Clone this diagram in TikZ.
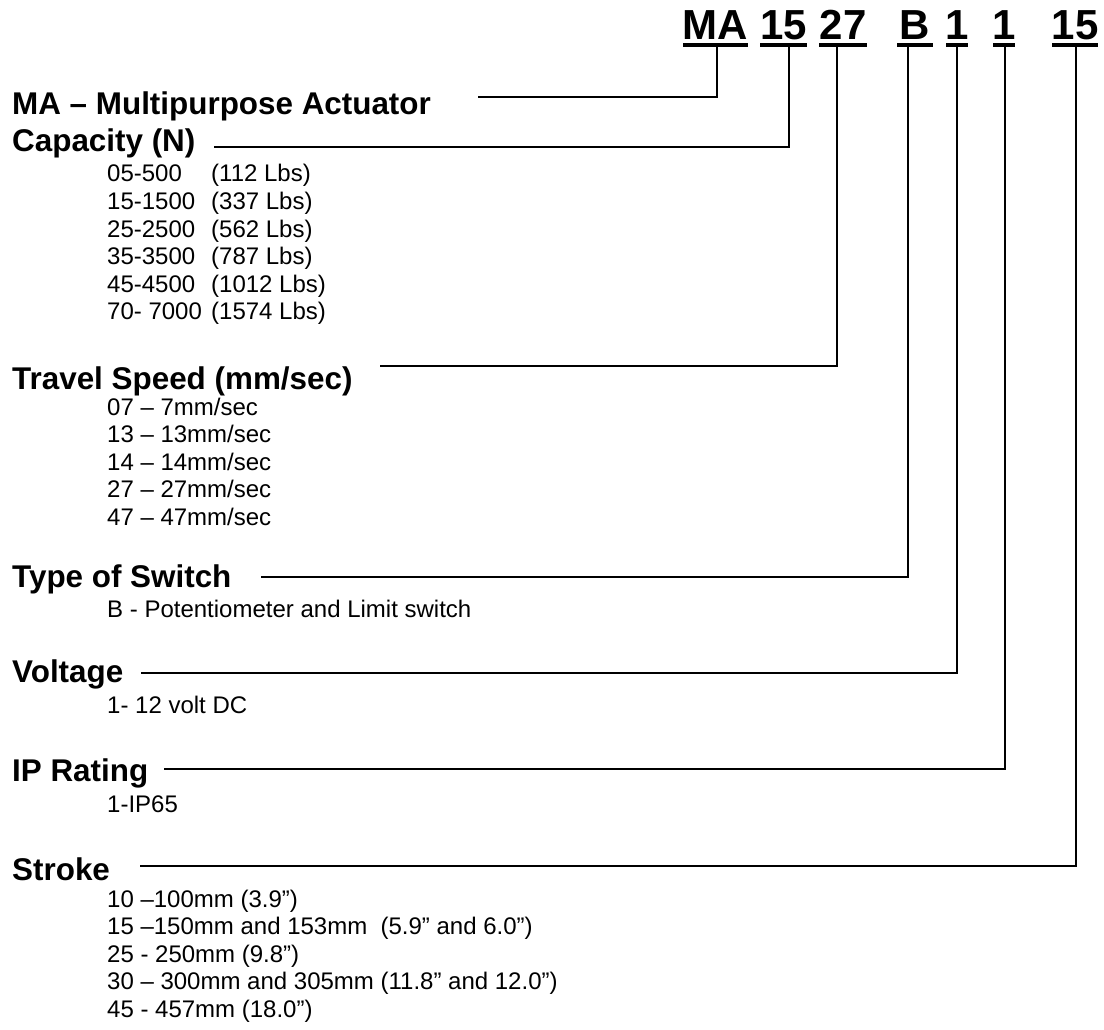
\documentclass[tikz,border=0pt]{standalone}
\usepackage{fontspec}
\setmainfont{Liberation Sans}
\begin{document}
\begin{tikzpicture}[x=1pt,y=-1pt,
  head/.style={anchor=base west, inner sep=0pt, font=\fontsize{31.4}{36}\selectfont\bfseries},
  body/.style={anchor=base west, inner sep=0pt, font=\fontsize{24}{27.5}\selectfont},
  code/.style={anchor=base, inner sep=0pt, font=\fontsize{42}{48}\selectfont\bfseries},
  conn/.style={line width=1.5pt},
  uline/.style={line width=4pt}]
\useasboundingbox (0,0) rectangle (1104,1030);
% code
\node[code] (cMA) at (715.5,40) {MA};
\node[code] (c15) at (783.5,40) {15};
\node[code] (c27) at (843,40) {27};
\node[code] (cB) at (915,40) {B};
\node[code] (c1a) at (957,40) {1};
\node[code] (c1b) at (1004,40) {1};
\node[code] (c15b) at (1075,40) {15};
\draw[uline] (683,45) -- (748,45);
\draw[uline] (760,45) -- (807,45);
\draw[uline] (819,45) -- (867,45);
\draw[uline] (897,45) -- (933,45);
\draw[uline] (946,45) -- (968,45);
\draw[uline] (993,45) -- (1015,45);
\draw[uline] (1052,45) -- (1098,45);
% headings
\node[head] (hMA) at (12,115) {MA – Multipurpose Actuator};
\node[head] (hCap) at (12,152) {Capacity (N)};
\node[head] (hTS) at (12,389) {Travel Speed (mm/sec)};
\node[head] (hTOS) at (12,587) {Type of Switch};
\node[head] (hV) at (12,682) {Voltage};
\node[head] (hIP) at (12,781) {IP Rating};
\node[head] (hS) at (12,880) {Stroke};
% capacity items
\node[body] (cap1) at (107,182) {\makebox[104pt][l]{05-500}(112 Lbs)};
\node[body] (cap2) at (107,209.5) {\makebox[104pt][l]{15-1500}(337 Lbs)};
\node[body] (cap3) at (107,237) {\makebox[104pt][l]{25-2500}(562 Lbs)};
\node[body] (cap4) at (107,264.5) {\makebox[104pt][l]{35-3500}(787 Lbs)};
\node[body] (cap5) at (107,292) {\makebox[104pt][l]{45-4500}(1012 Lbs)};
\node[body] (cap6) at (107,319.5) {\makebox[104pt][l]{70- 7000}(1574 Lbs)};
% travel speed items
\node[body] (ts1) at (107,415) {07 – 7mm/sec};
\node[body] (ts2) at (107,442.5) {13 – 13mm/sec};
\node[body] (ts3) at (107,470) {14 – 14mm/sec};
\node[body] (ts4) at (107,497.5) {27 – 27mm/sec};
\node[body] (ts5) at (107,525) {47 – 47mm/sec};
% switch, voltage, IP
\node[body] (sw1) at (107,617) {B - Potentiometer and Limit switch};
\node[body] (v1) at (107,713) {1- 12 volt DC};
\node[body] (ip1) at (107,812) {1-IP65};
% stroke items
\node[body] (s1) at (107,907) {10 –100mm (3.9”)};
\node[body] (s2) at (107,934.5) {15 –150mm and 153mm\ \ (5.9” and 6.0”)};
\node[body] (s3) at (107,962) {25 - 250mm (9.8”)};
\node[body] (s4) at (107,989.5) {30 – 300mm and 305mm (11.8” and 12.0”)};
\node[body] (s5) at (107,1017) {45 - 457mm (18.0”)};
% connector coordinates
\coordinate (tMA) at (717,47);   \coordinate (eMA) at (478,97);
\coordinate (t15) at (789,47);   \coordinate (eCap) at (214,147);
\coordinate (t27) at (837,47);   \coordinate (eTS) at (380,366);
\coordinate (tB) at (908,47);    \coordinate (eTOS) at (261,577);
\coordinate (t1a) at (957,47);   \coordinate (eV) at (141,673);
\coordinate (t1b) at (1005,47);  \coordinate (eIP) at (164,769);
\coordinate (t15b) at (1076,47); \coordinate (eS) at (140,866);
\draw[conn] (tMA) |- (eMA);
\draw[conn] (t15) |- (eCap);
\draw[conn] (t27) |- (eTS);
\draw[conn] (tB) |- (eTOS);
\draw[conn] (t1a) |- (eV);
\draw[conn] (t1b) |- (eIP);
\draw[conn] (t15b) |- (eS);
\end{tikzpicture}
\end{document}
